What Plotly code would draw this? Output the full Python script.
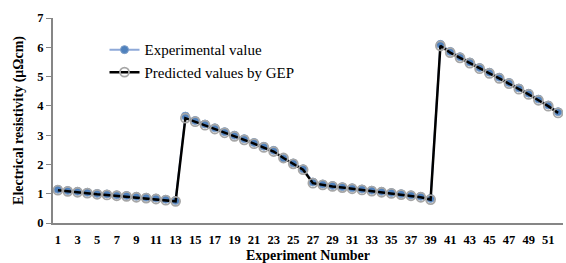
import plotly.graph_objects as go

experiment = list(range(1, 53))
experimental = [1.15, 1.11, 1.08, 1.05, 1.01, 0.99, 0.96, 0.94, 0.91, 0.88, 0.85, 0.81, 0.77,
                3.65, 3.50, 3.38, 3.25, 3.12, 3.00, 2.88, 2.75, 2.62, 2.48, 2.20, 2.05, 1.85,
                1.40, 1.33, 1.28, 1.24, 1.20, 1.16, 1.12, 1.08, 1.04, 1.00, 0.96, 0.91, 0.84,
                6.10, 5.86, 5.68, 5.50, 5.31, 5.15, 4.98, 4.80, 4.61, 4.43, 4.23, 4.03, 3.80]
predicted = [1.12, 1.08, 1.05, 1.02, 0.98, 0.96, 0.93, 0.91, 0.88, 0.85, 0.82, 0.78, 0.74,
             3.58, 3.46, 3.34, 3.21, 3.08, 2.96, 2.84, 2.71, 2.58, 2.44, 2.22, 2.02, 1.82,
             1.36, 1.30, 1.25, 1.21, 1.17, 1.13, 1.09, 1.05, 1.01, 0.97, 0.93, 0.88, 0.80,
             6.05, 5.82, 5.64, 5.46, 5.27, 5.11, 4.94, 4.76, 4.57, 4.39, 4.19, 3.99, 3.76]
tick_vals = list(range(1, 52, 2))
tick_text = [str(v) for v in tick_vals]
y_ticks = [0, 1, 2, 3, 4, 5, 6, 7]

fig = go.Figure()
fig.add_trace(go.Scatter(
    x=experiment, y=experimental, name="Experimental value", mode="lines+markers",
    line=dict(color="#8EA9D8", width=2),
    marker=dict(symbol="circle", size=8, color="#4F81BD", line=dict(color="#7F9FC8", width=1)),
))
fig.add_trace(go.Scatter(
    x=experiment, y=predicted, name="Predicted values by GEP", mode="lines+markers",
    line=dict(color="#000000", width=2.5),
    marker=dict(symbol="circle-open", size=9, color="#A6A6A6", line=dict(width=1.8)),
))

fig.update_layout(
    width=566, height=263,
    margin=dict(l=53, r=3, t=18, b=40),
    paper_bgcolor="white", plot_bgcolor="white",
    font=dict(family="Liberation Serif", color="black", size=12),
    showlegend=True,
    legend=dict(x=0.101, y=0.925, xanchor="left", yanchor="top",
                bgcolor="rgba(0,0,0,0)", font=dict(size=15, family="Liberation Serif"),
                tracegroupgap=0, itemwidth=30),
    xaxis=dict(range=[0.5, 52.5], tickvals=tick_vals, ticktext=tick_text, automargin=False,
               showgrid=False, zeroline=False, showline=True, linecolor="#868686", linewidth=2,
               ticks="", ticklabelstandoff=4,
               tickfont=dict(size=12.5, family="Liberation Serif", weight="bold"),
               title=dict(text="<b>Experiment Number</b>", font=dict(size=14), standoff=6)),
    yaxis=dict(range=[0, 7], tickvals=y_ticks, showgrid=False, zeroline=False, automargin=False,
               showline=True, linecolor="#868686", linewidth=2, ticks="outside", ticklen=5,
               tickcolor="#868686",
               tickfont=dict(size=12.5, family="Liberation Serif", weight="bold"),
               title=dict(text="<b>Electrical resistivity (μΩcm)</b>", font=dict(size=14), standoff=10)),
)
fig.write_html("out.html", config={"displayModeBar": False},
               post_script="document.body.style.margin='0px';document.body.style.overflow='hidden';")
